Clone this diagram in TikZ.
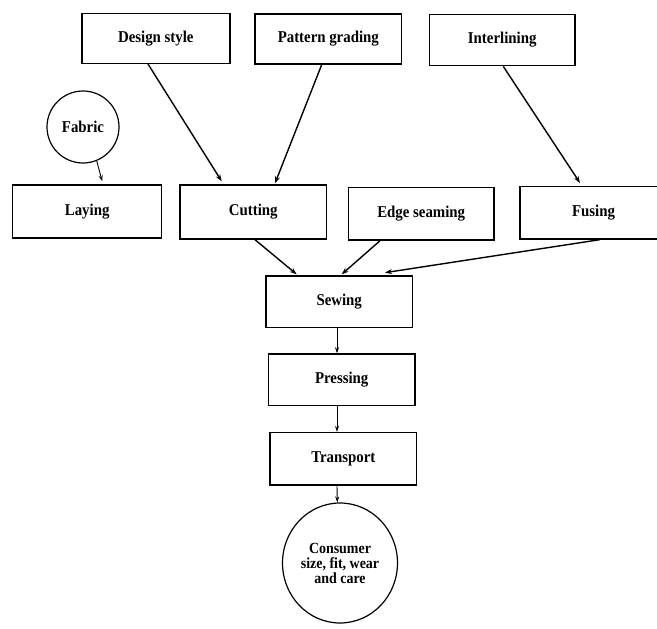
\documentclass[tikz,border=0pt]{standalone}
\usepackage{fontspec}
\setmainfont[FakeStretch=0.9]{Liberation Serif}
\usetikzlibrary{arrows.meta,shapes.geometric}
\begin{document}
\begin{tikzpicture}[x=1pt,y=-1pt,
  box/.style={draw,line width=1.4pt,inner sep=0pt,font=\bfseries\fontsize{16.5}{16}\selectfont},
  arr/.style={line width=1.4pt,-{Stealth[length=7pt,width=5pt]}},
  thinarr/.style={line width=0.9pt,-{Stealth[length=6pt,width=4pt]}}]
\useasboundingbox (0,0) rectangle (657,629);
\node[box,minimum width=148pt,minimum height=50pt] (design) at (155.8,38.3) {Design style};
\node[box,minimum width=146.7pt,minimum height=50pt] (pattern) at (328.3,39) {Pattern grading};
\node[box,minimum width=145.7pt,minimum height=51.4pt] (inter) at (502.2,40) {Interlining};
\node[box,circle,line width=1.2pt,minimum size=72pt] (fabric) at (83,127) {Fabric};
\node[box,minimum width=149pt,minimum height=53pt] (laying) at (87.2,211.5) {Laying};
\node[box,minimum width=146.7pt,minimum height=54pt] (cutting) at (253.3,212) {Cutting};
\node[box,minimum width=145.7pt,minimum height=52.7pt] (edge) at (421.2,213.7) {Edge seaming};
\node[box,minimum width=147pt,minimum height=52.3pt] (fusing) at (593.5,212.8) {Fusing};
\node[box,minimum width=146.3pt,minimum height=51.3pt] (sewing) at (339.2,301.7) {Sewing};
\node[box,minimum width=146.7pt,minimum height=51.7pt] (pressing) at (341.7,379.8) {Pressing};
\node[box,minimum width=146.7pt,minimum height=52.3pt] (transport) at (343.3,458.8) {Transport};
\node[box,ellipse,line width=1.2pt,minimum width=115pt,minimum height=120pt,font=\bfseries\fontsize{15.5}{15}\selectfont,align=center] (consumer) at (340,563) {Consumer\\size, fit, wear\\and care};
\draw[thinarr] (fabric.-68) -- ([xshift=15pt,yshift=3pt]laying.north);
\draw[arr] ([xshift=-7.8pt]design.south) -- ([xshift=-31.6pt,yshift=3pt]cutting.north);
\draw[arr] ([xshift=-6.6pt]pattern.south) -- ([xshift=21.7pt,yshift=1pt]cutting.north);
\draw[arr] ([xshift=1.1pt]inter.south) -- ([xshift=-13.5pt,yshift=3pt]fusing.north);
\draw[arr] ([xshift=1.7pt]cutting.south) -- ([xshift=-42.5pt,yshift=1pt]sewing.north);
\draw[arr] ([xshift=-41.2pt]edge.south) -- ([xshift=2.5pt,yshift=1pt]sewing.north);
\draw[arr] ([xshift=6.5pt]fusing.south) -- ([xshift=45.8pt,yshift=2.7pt]sewing.north);
\draw[thinarr] ([xshift=-2.2pt]sewing.south) -- ([xshift=-4.7pt]pressing.north);
\draw[thinarr] ([xshift=-4.7pt]pressing.south) -- ([xshift=-6.3pt]transport.north);
\draw[thinarr] ([xshift=-6.3pt]transport.south) -- ([xshift=-2.7pt]consumer.north);
\end{tikzpicture}
\end{document}
